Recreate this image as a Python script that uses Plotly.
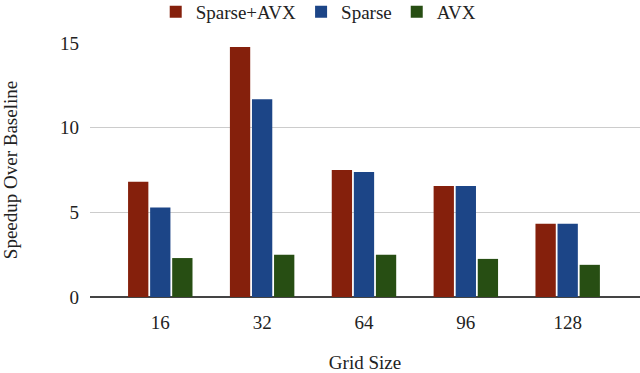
import plotly.graph_objects as go

grid_sizes = ['16', '32', '64', '96', '128']
sparse_avx = [6.8, 14.77, 7.5, 6.56, 4.33]
sparse = [5.28, 11.68, 7.38, 6.56, 4.33]
avx = [2.3, 2.5, 2.5, 2.25, 1.9]

font = 'Liberation Serif'

fig = go.Figure()
fig.add_trace(go.Bar(x=grid_sizes, y=sparse_avx, name='Sparse+AVX',
                     marker=dict(color='#85200c', line=dict(width=0))))
fig.add_trace(go.Bar(x=grid_sizes, y=sparse, name='Sparse',
                     marker=dict(color='#1c4587', line=dict(width=0))))
fig.add_trace(go.Bar(x=grid_sizes, y=avx, name='AVX',
                     marker=dict(color='#274e13', line=dict(width=0))))

fig.update_layout(
    width=640, height=373,
    margin=dict(l=90, r=0, t=43, b=76),
    plot_bgcolor='white', paper_bgcolor='white',
    font=dict(family=font, size=19, color='#222222'),
    barmode='group', bargap=0.35, bargroupgap=0.08,
    legend=dict(orientation='h', xref='container', x=0.498, xanchor='center',
                yref='container', y=0.968, yanchor='middle',
                font=dict(size=19, color='#222222')),
    xaxis=dict(range=[-0.69, 4.71], showgrid=False, ticks='',
               automargin=False, ticklabelstandoff=12,
               title=dict(text='Grid Size', standoff=30, font=dict(size=19))),
    yaxis=dict(range=[0, 15], tickvals=[0, 5, 10, 15], showgrid=True,
               gridcolor='#cccccc', zeroline=True, zerolinecolor='#444444',
               zerolinewidth=2, ticks='', automargin=True,
               ticklabelstandoff=10,
               title=dict(text='Speedup Over Baseline', standoff=38,
                          font=dict(size=19))),
)

# drop the page's default body margin so the figure sits at the corner
fig.write_html('out.html', config={'displayModeBar': False},
               post_script="document.body.style.margin='0';")
